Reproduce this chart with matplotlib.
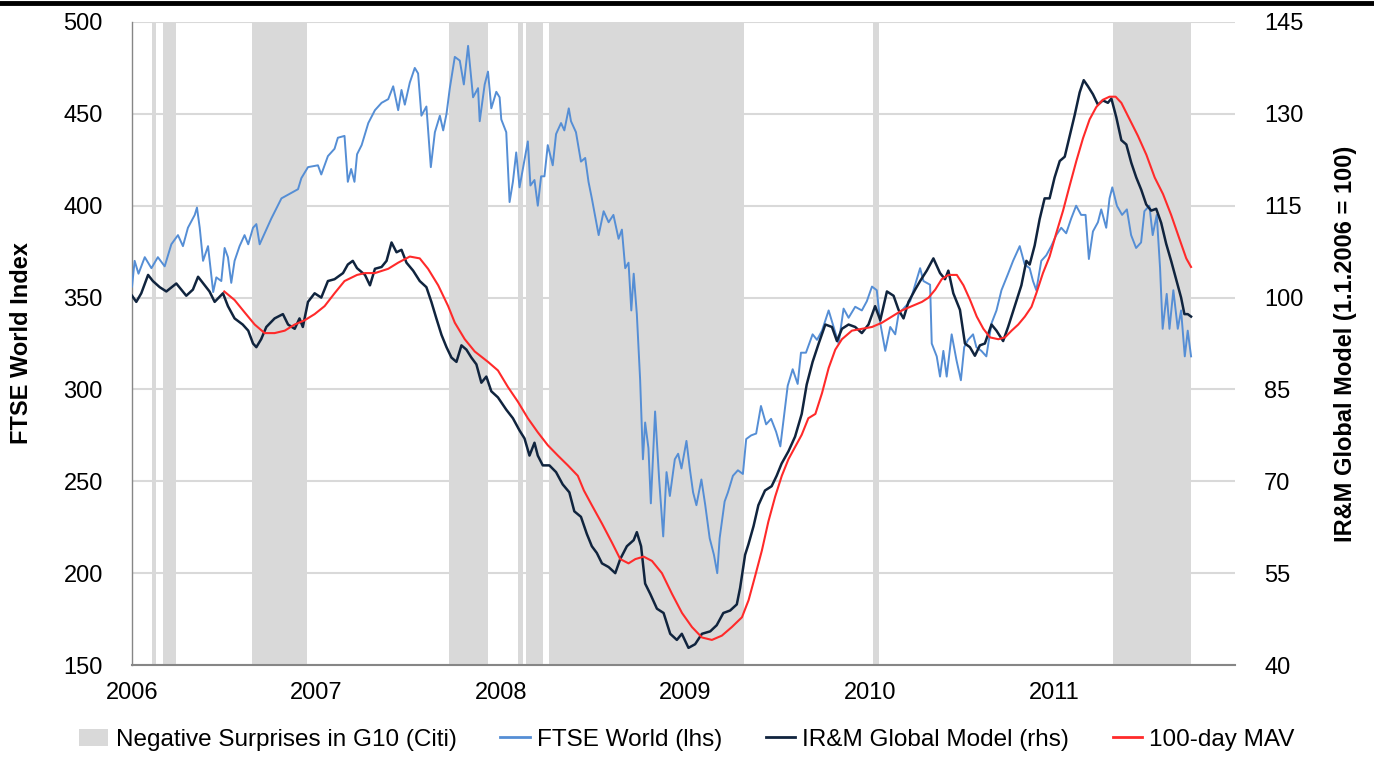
import matplotlib
matplotlib.use("Agg")
import matplotlib.pyplot as plt
from matplotlib.lines import Line2D
from matplotlib.patches import Patch

plt.rcParams['font.family'] = ['Liberation Sans', 'DejaVu Sans']

# periods of negative surprises (decimal years)
neg_start = [2006.108, 2006.17, 2006.65, 2007.72, 2008.09, 2008.135, 2008.26, 2010.02, 2011.32]
neg_end = [2006.13, 2006.24, 2006.95, 2007.93, 2008.12, 2008.23, 2009.32, 2010.05, 2011.74]

# FTSE World (lhs)
ftse_t = [2006.0, 2006.014, 2006.035, 2006.069, 2006.105, 2006.14, 2006.177, 2006.213, 2006.249, 2006.276,
          2006.303, 2006.34, 2006.352, 2006.367, 2006.385, 2006.412, 2006.44, 2006.457, 2006.484, 2006.502,
          2006.52, 2006.538, 2006.556, 2006.583, 2006.61, 2006.63, 2006.656, 2006.674, 2006.692, 2006.719,
          2006.755, 2006.81, 2006.846, 2006.9, 2006.918, 2006.954, 2007.008, 2007.026, 2007.062, 2007.098,
          2007.116, 2007.152, 2007.17, 2007.188, 2007.206, 2007.22, 2007.245, 2007.281, 2007.317, 2007.353,
          2007.389, 2007.416, 2007.443, 2007.461, 2007.479, 2007.506, 2007.533, 2007.551, 2007.569, 2007.596,
          2007.62, 2007.642, 2007.669, 2007.687, 2007.705, 2007.723, 2007.75, 2007.777, 2007.799, 2007.822,
          2007.849, 2007.876, 2007.885, 2007.912, 2007.93, 2007.948, 2007.975, 2007.993, 2008.002, 2008.029,
          2008.047, 2008.065, 2008.083, 2008.101, 2008.119, 2008.146, 2008.16, 2008.182, 2008.2, 2008.218,
          2008.236, 2008.254, 2008.281, 2008.299, 2008.326, 2008.344, 2008.368, 2008.38, 2008.407, 2008.434,
          2008.457, 2008.475, 2008.493, 2008.53, 2008.557, 2008.584, 2008.61, 2008.638, 2008.656, 2008.674,
          2008.692, 2008.707, 2008.72, 2008.737, 2008.755, 2008.77, 2008.782, 2008.8, 2008.813, 2008.836,
          2008.858, 2008.88, 2008.898, 2008.916, 2008.943, 2008.961, 2008.979, 2009.006, 2009.024, 2009.042,
          2009.06, 2009.087, 2009.108, 2009.132, 2009.155, 2009.173, 2009.186, 2009.213, 2009.231, 2009.258,
          2009.285, 2009.312, 2009.33, 2009.357, 2009.384, 2009.41, 2009.438, 2009.465, 2009.492, 2009.515,
          2009.533, 2009.555, 2009.582, 2009.609, 2009.627, 2009.654, 2009.672, 2009.69, 2009.714, 2009.741,
          2009.777, 2009.804, 2009.831, 2009.858, 2009.885, 2009.921, 2009.957, 2009.984, 2010.012, 2010.038,
          2010.057, 2010.084, 2010.111, 2010.138, 2010.156, 2010.192, 2010.219, 2010.246, 2010.273, 2010.291,
          2010.327, 2010.336, 2010.363, 2010.381, 2010.399, 2010.417, 2010.444, 2010.47, 2010.494, 2010.512,
          2010.533, 2010.56, 2010.578, 2010.605, 2010.632, 2010.66, 2010.687, 2010.714, 2010.75, 2010.777,
          2010.813, 2010.84, 2010.867, 2010.885, 2010.903, 2010.93, 2010.957, 2010.984, 2011.011, 2011.038,
          2011.065, 2011.092, 2011.119, 2011.146, 2011.17, 2011.188, 2011.21, 2011.237, 2011.255, 2011.282,
          2011.3, 2011.315, 2011.34, 2011.368, 2011.394, 2011.417, 2011.444, 2011.471, 2011.489, 2011.516,
          2011.534, 2011.556, 2011.574, 2011.588, 2011.61, 2011.625, 2011.646, 2011.67, 2011.688, 2011.708,
          2011.724, 2011.742]
ftse_v = [356, 370, 363, 372, 366, 372, 367, 379, 384, 378,
          388, 395, 399, 388, 370, 378, 353, 361, 359, 377,
          372, 358, 370, 378, 384, 379, 388, 390, 379, 385,
          393, 404, 406, 409, 415, 421, 422, 417, 427, 431,
          437, 438, 413, 420, 413, 428, 433, 445, 452, 456,
          458, 465, 452, 463, 455, 467, 475, 472, 449, 454,
          421, 440, 449, 441, 450, 464, 481, 479, 466, 487,
          459, 464, 446, 466, 473, 453, 462, 459, 447, 440,
          402, 413, 429, 410, 420, 435, 411, 414, 400, 416,
          416, 433, 422, 439, 445, 441, 453, 446, 440, 424,
          426, 413, 404, 384, 397, 391, 395, 382, 387, 366,
          369, 343, 363, 341, 305, 262, 282, 268, 238, 288,
          251, 220, 255, 242, 262, 265, 257, 272, 257, 244,
          237, 251, 237, 219, 210, 200, 219, 239, 244, 253,
          256, 254, 273, 275, 276, 291, 281, 284, 277, 269,
          284, 302, 311, 303, 320, 320, 325, 330, 327, 332,
          343, 334, 325, 344, 339, 345, 343, 348, 356, 354,
          336, 321, 334, 330, 341, 345, 348, 357, 366, 359,
          357, 325, 318, 307, 321, 307, 330, 316, 305, 323,
          327, 330, 323, 321, 318, 336, 343, 354, 363, 370,
          378, 368, 366, 359, 354, 370, 373, 378, 384, 388,
          385, 393, 400, 395, 395, 371, 386, 391, 398, 388,
          404, 410, 400, 395, 398, 384, 377, 380, 397, 400,
          384, 395, 366, 333, 352, 333, 354, 333, 343, 318,
          332, 318]

# IR&M Global Model (rhs)
model_t = [2006.0, 2006.023, 2006.05, 2006.087, 2006.113, 2006.15, 2006.186, 2006.24, 2006.294, 2006.33,
           2006.358, 2006.394, 2006.42, 2006.448, 2006.493, 2006.52, 2006.556, 2006.6, 2006.63, 2006.656,
           2006.674, 2006.7, 2006.728, 2006.773, 2006.818, 2006.846, 2006.882, 2006.908, 2006.926, 2006.954,
           2006.99, 2007.026, 2007.062, 2007.098, 2007.144, 2007.17, 2007.197, 2007.22, 2007.263, 2007.29,
           2007.317, 2007.353, 2007.38, 2007.407, 2007.434, 2007.461, 2007.488, 2007.524, 2007.56, 2007.596,
           2007.623, 2007.65, 2007.678, 2007.705, 2007.732, 2007.759, 2007.786, 2007.813, 2007.84, 2007.867,
           2007.894, 2007.921, 2007.948, 2007.984, 2008.029, 2008.065, 2008.101, 2008.128, 2008.155, 2008.182,
           2008.2, 2008.227, 2008.263, 2008.299, 2008.335, 2008.371, 2008.398, 2008.434, 2008.466, 2008.493,
           2008.52, 2008.548, 2008.584, 2008.62, 2008.647, 2008.683, 2008.72, 2008.737, 2008.76, 2008.782,
           2008.81, 2008.846, 2008.882, 2008.918, 2008.954, 2008.981, 2009.017, 2009.053, 2009.09, 2009.135,
           2009.17, 2009.206, 2009.243, 2009.279, 2009.297, 2009.324, 2009.342, 2009.37, 2009.396, 2009.432,
           2009.468, 2009.495, 2009.522, 2009.559, 2009.595, 2009.631, 2009.658, 2009.69, 2009.723, 2009.759,
           2009.795, 2009.822, 2009.849, 2009.885, 2009.921, 2009.957, 2009.993, 2010.029, 2010.057, 2010.093,
           2010.129, 2010.156, 2010.183, 2010.21, 2010.246, 2010.273, 2010.309, 2010.345, 2010.381, 2010.408,
           2010.426, 2010.453, 2010.489, 2010.516, 2010.543, 2010.57, 2010.597, 2010.624, 2010.66, 2010.687,
           2010.723, 2010.75, 2010.786, 2010.822, 2010.849, 2010.867, 2010.894, 2010.921, 2010.948, 2010.975,
           2011.002, 2011.03, 2011.057, 2011.084, 2011.111, 2011.138, 2011.16, 2011.183, 2011.21, 2011.237,
           2011.264, 2011.291, 2011.31, 2011.337, 2011.364, 2011.391, 2011.418, 2011.445, 2011.472, 2011.499,
           2011.526, 2011.553, 2011.58, 2011.607, 2011.634, 2011.661, 2011.688, 2011.706, 2011.724, 2011.742]
model_v = [100.3, 99.3, 100.7, 103.7, 102.7, 101.7, 101.0, 102.3, 100.3, 101.3,
           103.4, 102.0, 101.0, 99.3, 100.7, 98.6, 96.6, 95.6, 94.6, 92.5,
           91.9, 93.2, 95.2, 96.6, 97.3, 95.6, 94.9, 96.6, 95.2, 99.3,
           100.7, 100.0, 102.7, 103.0, 104.0, 105.4, 106.0, 104.8, 103.7, 102.0,
           104.7, 105.0, 106.0, 109.0, 107.4, 107.8, 105.7, 104.4, 102.7, 101.7,
           99.3, 96.6, 93.9, 91.9, 90.2, 89.5, 92.2, 91.5, 90.2, 89.1,
           86.1, 87.1, 84.7, 83.7, 81.7, 80.3, 78.3, 77.0, 74.2, 76.3,
           74.2, 72.6, 72.6, 71.5, 69.5, 68.2, 65.1, 64.2, 61.4, 59.4,
           58.3, 56.6, 56.0, 55.0, 57.3, 59.4, 60.4, 61.7, 59.4, 53.3,
           51.6, 49.2, 48.5, 45.1, 44.1, 45.1, 42.8, 43.4, 45.1, 45.5,
           46.5, 48.5, 48.9, 49.9, 52.6, 58.0, 59.7, 62.7, 66.1, 68.5,
           69.2, 70.9, 72.9, 74.9, 77.3, 81.0, 85.8, 89.5, 92.5, 95.6,
           95.2, 92.9, 94.9, 95.6, 95.2, 94.2, 95.6, 98.6, 96.3, 101.0,
           100.3, 98.0, 96.6, 99.3, 101.3, 102.7, 104.4, 106.4, 104.0, 103.0,
           104.4, 100.7, 98.0, 92.5, 91.9, 90.5, 92.2, 92.5, 95.6, 94.6,
           92.9, 95.2, 98.6, 102.0, 106.0, 105.4, 108.5, 112.8, 116.2, 116.2,
           119.6, 122.3, 123.0, 126.4, 129.8, 133.5, 135.5, 134.5, 133.2, 131.5,
           132.2, 131.8, 132.5, 129.4, 125.7, 125.0, 122.0, 119.6, 117.6, 115.2,
           114.2, 114.5, 112.2, 108.8, 106.0, 103.0, 100.0, 97.3, 97.3, 96.9]

# 100-day MAV (rhs)
mav_t = [2006.5, 2006.556, 2006.61, 2006.665, 2006.719, 2006.773, 2006.828, 2006.882, 2006.936, 2006.99,
         2007.044, 2007.098, 2007.152, 2007.22, 2007.263, 2007.317, 2007.389, 2007.443, 2007.506, 2007.56,
         2007.605, 2007.66, 2007.714, 2007.75, 2007.804, 2007.858, 2007.93, 2007.984, 2008.038, 2008.092,
         2008.146, 2008.2, 2008.254, 2008.309, 2008.363, 2008.417, 2008.45, 2008.493, 2008.548, 2008.602,
         2008.647, 2008.692, 2008.729, 2008.774, 2008.819, 2008.873, 2008.928, 2008.982, 2009.036, 2009.09,
         2009.144, 2009.198, 2009.252, 2009.307, 2009.343, 2009.379, 2009.415, 2009.45, 2009.487, 2009.523,
         2009.559, 2009.595, 2009.631, 2009.667, 2009.705, 2009.741, 2009.777, 2009.813, 2009.849, 2009.903,
         2009.957, 2010.012, 2010.066, 2010.12, 2010.174, 2010.228, 2010.283, 2010.319, 2010.355, 2010.39,
         2010.426, 2010.472, 2010.508, 2010.544, 2010.58, 2010.616, 2010.652, 2010.697, 2010.733, 2010.769,
         2010.805, 2010.841, 2010.877, 2010.903, 2010.939, 2010.975, 2011.011, 2011.048, 2011.084, 2011.12,
         2011.156, 2011.192, 2011.228, 2011.264, 2011.3, 2011.333, 2011.364, 2011.409, 2011.454, 2011.5,
         2011.545, 2011.59, 2011.634, 2011.68, 2011.716, 2011.742]
mav_v = [101.0, 99.6, 97.6, 95.6, 94.2, 94.2, 94.6, 95.6, 96.3, 97.3,
         98.6, 100.7, 102.7, 103.7, 104.0, 104.0, 104.7, 105.7, 106.7, 106.4,
         104.7, 102.0, 98.6, 95.9, 93.2, 91.2, 89.5, 88.1, 85.4, 83.0,
         80.3, 78.0, 75.9, 74.2, 72.6, 70.9, 68.5, 66.1, 63.1, 60.0,
         57.3, 56.6, 57.3, 57.7, 57.0, 55.0, 51.6, 48.5, 46.2, 44.5,
         44.1, 44.8, 46.2, 47.8, 50.6, 54.6, 58.7, 63.4, 67.5, 70.9,
         73.6, 75.6, 77.6, 80.3, 81.0, 84.4, 88.5, 91.5, 93.2, 94.6,
         94.9, 95.2, 95.9, 96.9, 97.9, 98.6, 99.3, 100.0, 101.3, 103.0,
         103.7, 103.7, 102.0, 99.6, 96.9, 94.9, 93.5, 93.2, 93.5, 94.6,
         95.6, 96.9, 98.5, 100.7, 104.0, 106.7, 110.5, 114.2, 118.3, 122.3,
         126.0, 129.1, 131.1, 132.3, 132.8, 132.8, 131.8, 129.1, 126.4, 123.3,
         119.6, 116.9, 113.5, 109.5, 106.4, 105.0]

years = [2006, 2007, 2008, 2009, 2010, 2011]

c_shade = '#d9d9d9'
c_ftse = '#558ed5'
c_model = '#10243e'
c_mav = '#ff2a2a'

fig = plt.figure(figsize=(13.74, 7.69), dpi=100)
ax = fig.add_axes([0.0961, 0.1352, 0.8027, 0.8362])
ax2 = ax.twinx()

for s, e in zip(neg_start, neg_end):
    ax.axvspan(s, e, color=c_shade, lw=0, zorder=1)

ax.plot(ftse_t, ftse_v, color=c_ftse, lw=1.4, zorder=3)
ax2.plot(model_t, model_v, color=c_model, lw=1.8, zorder=3)
ax2.plot(mav_t, mav_v, color=c_mav, lw=1.5, zorder=4)

ax.set_xlim(2006, 2011.98)
ax.set_ylim(150, 500)
ax.set_yticks(range(150, 501, 50))
ax2.set_ylim(40, 145)
ax2.set_yticks(range(40, 146, 15))
ax.set_xticks(years)
ax.set_xticklabels([str(y) for y in years])

ax.grid(axis='y', color='#d9d9d9', lw=1.5, zorder=0)
ax.set_axisbelow(True)

for a in (ax, ax2):
    for side in ('top', 'right', 'left', 'bottom'):
        a.spines[side].set_visible(False)
    a.tick_params(length=0, labelsize=17)
ax.spines['bottom'].set_visible(True)
ax.spines['bottom'].set_color('#868686')
ax.spines['bottom'].set_linewidth(1.5)
ax.spines['left'].set_visible(True)
ax.spines['left'].set_color('#868686')
ax.spines['left'].set_linewidth(1.0)
ax.tick_params(axis='x', pad=12)
ax.tick_params(axis='y', pad=21)
ax2.tick_params(axis='y', pad=21)

ax.set_ylabel('FTSE World Index', fontsize=17, fontweight='bold', labelpad=22)
ax2.set_ylabel('IR&M Global Model (1.1.2006 = 100)', fontsize=17, fontweight='bold', labelpad=22)

handles = [Patch(facecolor=c_shade, edgecolor='none'),
           Line2D([], [], color=c_ftse, lw=2),
           Line2D([], [], color=c_model, lw=2),
           Line2D([], [], color=c_mav, lw=2)]
labels = ['Negative Surprises in G10 (Citi)', 'FTSE World (lhs)',
          'IR&M Global Model (rhs)', '100-day MAV']
fig.legend(handles, labels, loc='lower center', bbox_to_anchor=(0.5, -0.005), ncol=4,
           frameon=False, fontsize=17.5, handlelength=1.2, handletextpad=0.3, columnspacing=1.8)

fig.add_artist(Line2D([0, 1], [0.996, 0.996], color='black', lw=3.5, transform=fig.transFigure))

fig.savefig('out.png', dpi=100)
